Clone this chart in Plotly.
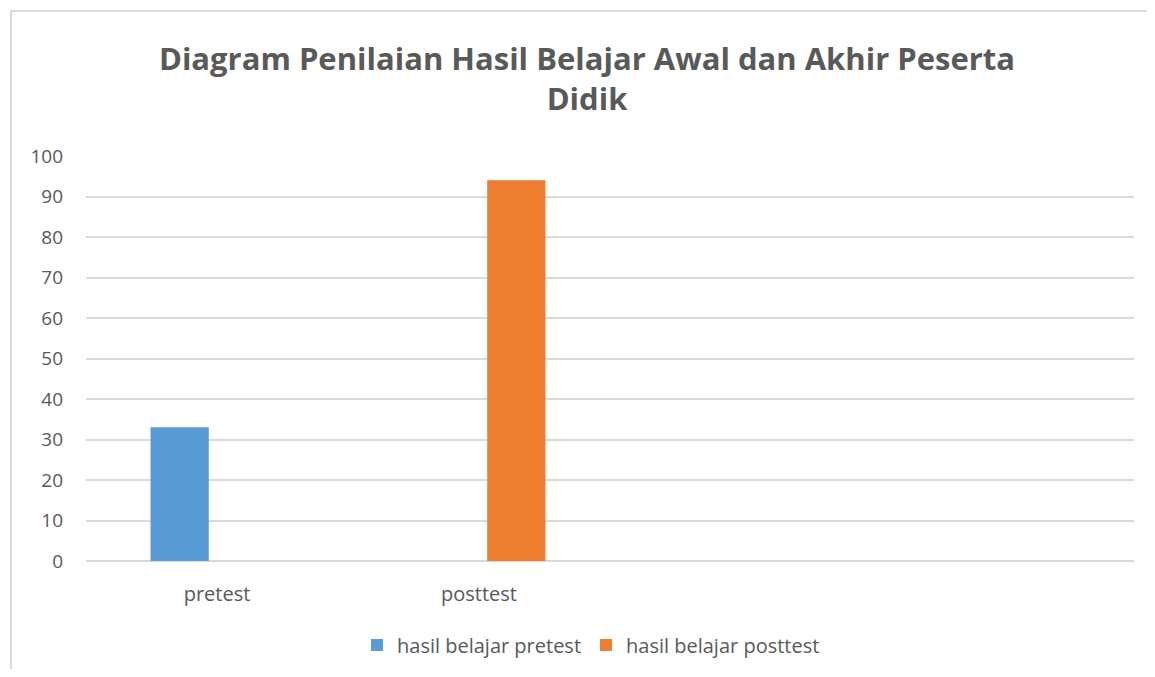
import plotly.graph_objects as go

categories = ["pretest", "posttest"]
pretest_values = [33, None]
posttest_values = [None, 94]
series_names = ["hasil belajar pretest", "hasil belajar posttest"]
y_ticks = [0, 10, 20, 30, 40, 50, 60, 70, 80, 90, 100]
title_text = "Diagram Penilaian Hasil Belajar Awal dan Akhir Peserta<br>Didik"

# page has an 8px body margin; figure is sized to fit inside the window
W, H = 1139, 661
L, R, T, B = 78, 13, 148, 108
pw = W - L - R
ph = H - T - B

fig = go.Figure()
fig.add_trace(go.Bar(x=categories, y=pretest_values, name=series_names[0],
                     marker=dict(color="#5b9bd5", line=dict(width=0))))
fig.add_trace(go.Bar(x=categories, y=posttest_values, name=series_names[1],
                     marker=dict(color="#ed7d31", line=dict(width=0))))

font_family = "Open Sans, Lato, sans-serif"
grey = "#595959"

fig.update_layout(
    width=W, height=H,
    margin=dict(l=L, r=R, t=T, b=B, pad=0),
    paper_bgcolor="white", plot_bgcolor="white",
    barmode="group", bargap=0.43, bargroupgap=0.22,
    title=dict(text="<b>" + title_text + "</b>", xref="container", x=579 / W, xanchor="center",
               yref="container", y=1 - 62 / H, yanchor="top",
               font=dict(family=font_family, size=31, color=grey)),
    xaxis=dict(type="category", categoryorder="array", categoryarray=categories,
               range=[-0.5, 3.5], showgrid=False, zeroline=False, showline=False,
               ticks="", tickfont=dict(family=font_family, size=20, color=grey),
               ticklabelstandoff=19),
    yaxis=dict(range=[0, 100], tickvals=y_ticks, showgrid=True, gridcolor="#d9d9d9",
               gridwidth=1.5, zeroline=True, zerolinecolor="#d9d9d9", zerolinewidth=1.5,
               showline=False, ticks="", tickfont=dict(family=font_family, size=19, color=grey),
               ticklabelstandoff=22),
    legend=dict(orientation="h", xref="container", x=583 / W, xanchor="center",
                yref="container", y=1 - 637 / H, yanchor="middle",
                font=dict(family=font_family, size=20, color=grey),
                itemwidth=30, traceorder="normal"),
    showlegend=True,
)

# chart area border (only top and left visible in cropped reference)
fig.add_shape(type="rect", xref="paper", yref="paper",
              x0=(3 - L) / pw, x1=(W + 50 - L) / pw,
              y0=(H - B - (H + 50)) / ph, y1=(H - B - 3) / ph,
              line=dict(color="#d9d9d9", width=2), fillcolor="rgba(0,0,0,0)", layer="below")

fig.write_html("out.html")
